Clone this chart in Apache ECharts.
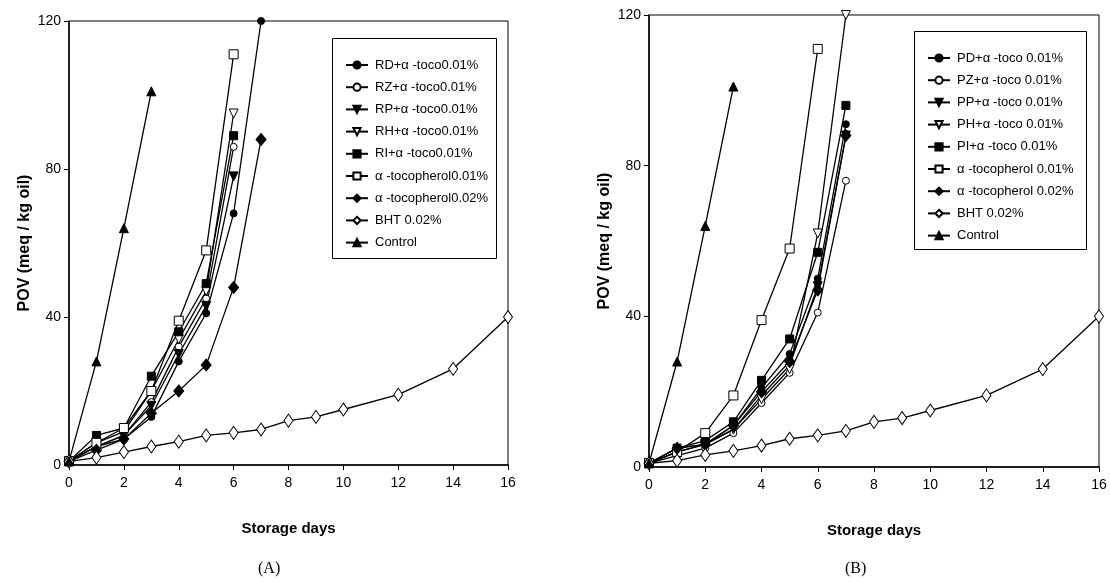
<!DOCTYPE html>
<html>
<head>
<meta charset="utf-8">
<script src="https://cdn.jsdelivr.net/npm/echarts@6/dist/echarts.min.js"></script>
<style>
html,body{margin:0;padding:0;background:#fff;}
#chart{width:1110px;height:582px;}
</style>
</head>
<body>
<div id="chart"></div>
<script>
// ---------- data ----------
const days7 = [0, 1, 2, 3, 4, 5, 6, 7];
const days6 = [0, 1, 2, 3, 4, 5, 6];
const daysBHT = [0, 1, 2, 3, 4, 5, 6, 7, 8, 9, 10, 12, 14, 16];
const daysCtl = [0, 1, 2, 3];

const namesA = ['RD+α -toco0.01%', 'RZ+α -toco0.01%', 'RP+α -toco0.01%', 'RH+α -toco0.01%', 'RI+α -toco0.01%',
  'α -tocopherol0.01%', 'α -tocopherol0.02%', 'BHT 0.02%', 'Control'];
const namesB = ['PD+α -toco 0.01%', 'PZ+α -toco 0.01%', 'PP+α -toco 0.01%', 'PH+α -toco 0.01%', 'PI+α -toco 0.01%',
  'α -tocopherol 0.01%', 'α -tocopherol 0.02%', 'BHT 0.02% ', 'Control '];

// Panel A values (POV, meq / kg oil)
const A_RD = [1, 5, 7, 13, 28, 41, 68, 120];
const A_RZ = [1, 5, 8, 17, 32, 45, 86];
const A_RP = [1, 5, 8, 16, 30, 43, 78];
const A_RH = [1, 6, 9, 20, 34, 47, 95];
const A_RI = [1, 8, 10, 24, 36, 49, 89];
const A_T01 = [1, 6, 10, 20, 39, 58, 111];
const A_T02 = [1, 4, 7, 14, 20, 27, 48, 88];
const A_BHT = [1, 2, 3.5, 5, 6.3, 8, 8.7, 9.6, 12, 13, 15, 19, 26, 40];
const A_CTL = [1, 28, 64, 101];

// Panel B values
const B_PD = [1, 5, 6, 11, 21, 30, 50, 91];
const B_PZ = [1, 3, 5, 9, 17, 25, 41, 76];
const B_PP = [1, 4, 6, 10, 19, 27, 48, 88];
const B_PH = [1, 4, 6, 10, 18, 26, 62, 120];
const B_PI = [1, 5, 7, 12, 23, 34, 57, 96];
const B_T01 = [1, 4, 9, 19, 39, 58, 111];
const B_T02 = [1, 5, 6, 11, 20, 28, 47, 88];
const B_BHT = [1, 1.7, 3.2, 4.3, 5.7, 7.5, 8.4, 9.6, 12, 13, 15, 19, 26, 40];
const B_CTL = [1, 28, 64, 101];

const xTicks = [0, 2, 4, 6, 8, 10, 12, 14, 16];
const yTicks = [0, 40, 80, 120];

// ---------- styles ----------
const styles = [
  {symbol: 'circle', size: 7, fill: '#000'},
  {symbol: 'circle', size: 7, fill: '#fff'},
  {symbol: 'triangle', size: 9, fill: '#000', rotate: 180},
  {symbol: 'triangle', size: 9, fill: '#fff', rotate: 180},
  {symbol: 'rect', size: 8, fill: '#000'},
  {symbol: 'rect', size: 9, fill: '#fff'},
  {symbol: 'diamond', size: [10, 12], fill: '#000'},
  {symbol: 'diamond', size: [9, 13], fill: '#fff'},
  {symbol: 'triangle', size: 9, fill: '#000'}
];

function pairs(days, vals) { return vals.map((v, i) => [days[i], v]); }

function mk(name, days, vals, idx, st) {
  return {
    type: 'line', name: name, xAxisIndex: idx, yAxisIndex: idx,
    data: pairs(days, vals),
    symbol: st.symbol, symbolSize: st.size, symbolRotate: st.rotate || 0,
    showAllSymbol: true, animation: false,
    lineStyle: {color: '#000', width: 1.3},
    itemStyle: {color: st.fill, borderColor: '#000', borderWidth: 1, opacity: 1},
    emphasis: {disabled: true}
  };
}

const seriesA = [
  [A_RD, days7], [A_RZ, days6], [A_RP, days6], [A_RH, days6], [A_RI, days6],
  [A_T01, days6], [A_T02, days7], [A_BHT, daysBHT], [A_CTL, daysCtl]
].map((d, i) => mk(namesA[i], d[1], d[0], 0, styles[i]));
const seriesB = [
  [B_PD, days7], [B_PZ, days7], [B_PP, days7], [B_PH, days7], [B_PI, days7],
  [B_T01, days6], [B_T02, days7], [B_BHT, daysBHT], [B_CTL, daysCtl]
].map((d, i) => mk(namesB[i], d[1], d[0], 1, styles[i]));

const narrow = "'Liberation Sans Narrow', 'Liberation Sans', Arial, sans-serif";
const sans = "'Liberation Sans', Arial, sans-serif";

function xAxis(idx) {
  return {
    type: 'value', gridIndex: idx, min: 0, max: 16, interval: 2,
    name: 'Storage days', nameLocation: 'middle', nameGap: 56,
    nameTextStyle: {fontFamily: narrow, fontWeight: 'bold', fontSize: 15, color: '#000'},
    axisLine: {show: true, lineStyle: {color: '#000', width: 1.5}},
    axisTick: {show: true, length: 5, lineStyle: {color: '#000'}},
    axisLabel: {fontFamily: narrow, fontSize: 14, color: '#000', margin: 11,
      formatter: v => xTicks.includes(v) ? String(v) : ''},
    splitLine: {show: false}
  };
}
function yAxis(idx) {
  return {
    type: 'value', gridIndex: idx, min: 0, max: 120, interval: 40,
    name: 'POV (meq / kg oil)', nameLocation: 'middle', nameGap: 36,
    nameTextStyle: {fontFamily: sans, fontWeight: 'bold', fontSize: 16, color: '#000'},
    axisLine: {show: true, lineStyle: {color: '#000', width: 1.5}},
    axisTick: {show: true, length: 5, lineStyle: {color: '#000'}},
    axisLabel: {fontFamily: narrow, fontSize: 14, color: '#000', margin: 8,
      formatter: v => yTicks.includes(v) ? String(v) : ''},
    splitLine: {show: false}
  };
}

function legend(names, left, top) {
  return {
    data: names, orient: 'vertical', left: left, top: top,
    itemWidth: 22, itemHeight: 9, itemGap: 8.2,
    selectedMode: false,
    textStyle: {fontFamily: narrow, fontSize: 13, color: '#000', lineHeight: 14, padding: [0, 0, 0, 2]},
    symbolRotate: 'inherit'
  };
}

const chart = echarts.init(document.getElementById('chart'), null, {renderer: 'canvas'});
chart.setOption({
  backgroundColor: '#fff',
  animation: false,
  grid: [
    {left: 69, top: 21, width: 439, height: 444, show: true, borderColor: '#000', borderWidth: 1, containLabel: false},
    {left: 649, top: 15, width: 450, height: 452, show: true, borderColor: '#000', borderWidth: 1, containLabel: false}
  ],
  xAxis: [xAxis(0), xAxis(1)],
  yAxis: [yAxis(0), yAxis(1)],
  legend: [legend(namesA, 340, 53), legend(namesB, 922, 46)],
  graphic: [
    {type: 'rect', left: 332, top: 38, shape: {width: 164, height: 220}, style: {fill: 'rgba(0,0,0,0)', stroke: '#000', lineWidth: 1}, z: 100},
    {type: 'rect', left: 914, top: 31, shape: {width: 172, height: 218}, style: {fill: 'rgba(0,0,0,0)', stroke: '#000', lineWidth: 1}, z: 100},
    {type: 'text', left: 258, top: 561, style: {text: '(A)', font: "16px 'Liberation Serif', serif", fill: '#000'}},
    {type: 'text', left: 845, top: 561, style: {text: '(B)', font: "16px 'Liberation Serif', serif", fill: '#000'}}
  ],
  series: seriesA.concat(seriesB)
});
</script>
</body>
</html>
